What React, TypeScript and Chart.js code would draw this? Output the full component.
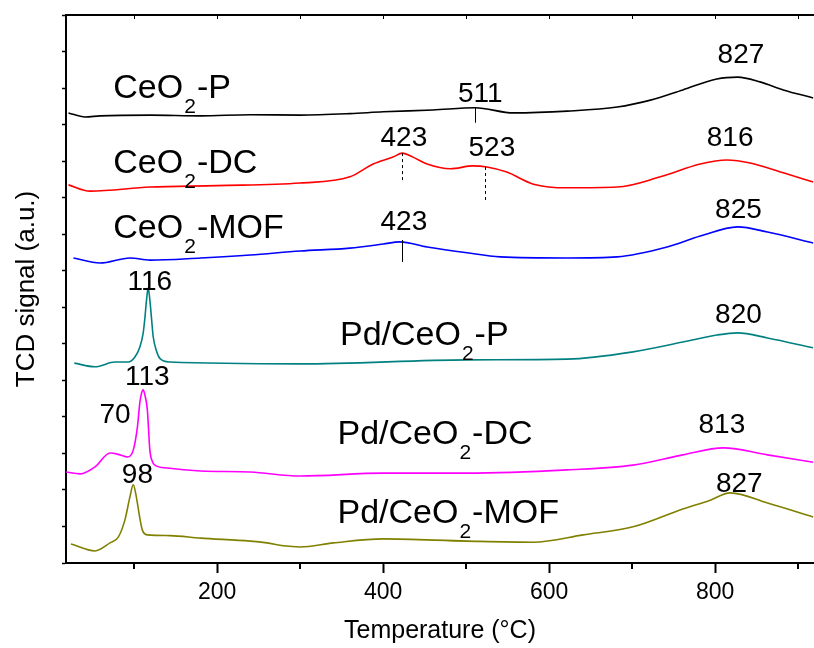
import React, { useEffect, useRef } from 'react';
import { Chart, registerables } from 'chart.js';

Chart.register(...registerables);

const FONT = '"Liberation Sans", Arial, Helvetica, sans-serif';

// X axis (temperature, °C)
const xMin = 18;
const xMax = 919;
const xTickValues = [100, 200, 300, 400, 500, 600, 700, 800, 900];
const xMajorStep = 200;

// Y axis (arbitrary units, stacked offsets)
const yMin = 0;
const yMax = 15;
const yTickValues = [0, 1, 2, 3, 4, 5, 6, 7, 8, 9, 10, 11, 12, 13, 14, 15];

// Series names and colours
const seriesNames = ['CeO2-P', 'CeO2-DC', 'CeO2-MOF', 'Pd/CeO2-P', 'Pd/CeO2-DC', 'Pd/CeO2-MOF'];
const seriesColors = ['#000000', '#ff0000', '#0000ff', '#008080', '#ff00ff', '#808000'];

// CeO2-P
const ceoPTemp = [21, 41, 59, 120, 180, 240, 300, 360, 400, 460, 511, 557, 622, 682, 722, 761, 802, 827, 854, 882, 918];
const ceoPVal = [12.32, 12.21, 12.24, 12.26, 12.24, 12.27, 12.26, 12.3, 12.35, 12.4, 12.46, 12.32, 12.37, 12.48, 12.67, 12.95, 13.25, 13.3, 13.17, 12.95, 12.73];

// CeO2-DC
const ceoDCTemp = [21, 47, 119, 200, 300, 360, 388, 412, 423, 436, 453, 481, 508, 525, 549, 581, 622, 682, 734, 782, 814, 842, 882, 918];
const ceoDCVal = [10.35, 10.18, 10.29, 10.33, 10.4, 10.57, 10.92, 11.11, 11.22, 11.11, 10.92, 10.79, 10.87, 10.84, 10.7, 10.37, 10.27, 10.29, 10.57, 10.92, 11.03, 10.95, 10.68, 10.43];

// CeO2-MOF
const ceoMOFTemp = [27, 59, 95, 119, 180, 240, 300, 360, 400, 420, 453, 501, 541, 622, 682, 742, 782, 827, 863, 918];
const ceoMOFVal = [8.35, 8.21, 8.35, 8.29, 8.35, 8.43, 8.54, 8.62, 8.73, 8.79, 8.65, 8.49, 8.38, 8.35, 8.38, 8.65, 8.95, 9.2, 9.06, 8.76];

// Pd/CeO2-P
const pdPTemp = [28, 53, 77, 93, 101, 107, 111, 113, 115, 117, 119, 121, 123, 127, 131, 143, 300, 501, 622, 701, 761, 802, 827, 863, 918];
const pdPVal = [5.47, 5.37, 5.5, 5.5, 5.64, 5.91, 6.3, 6.7, 7.2, 7.53, 7.2, 6.7, 6.2, 5.8, 5.6, 5.5, 5.45, 5.56, 5.58, 5.78, 6.05, 6.24, 6.3, 6.16, 5.89];

// Pd/CeO2-DC
const pdDCTemp = [18, 35, 53, 71, 83, 92, 99, 104, 107, 109, 111, 113, 116, 119, 122, 125, 140, 180, 240, 300, 400, 501, 622, 701, 761, 810, 863, 918];
const pdDCVal = [2.49, 2.44, 2.63, 3.01, 2.96, 2.9, 3.09, 3.72, 4.4, 4.65, 4.74, 4.6, 4.19, 3.09, 2.78, 2.68, 2.6, 2.52, 2.49, 2.38, 2.46, 2.46, 2.55, 2.68, 2.96, 3.15, 2.96, 2.76];

// Pd/CeO2-MOF
const pdMOFTemp = [24, 53, 71, 81, 89, 95, 99, 102, 104, 107, 110, 116, 143, 180, 240, 260, 280, 300, 340, 400, 501, 581, 641, 701, 761, 794, 818, 863, 918];
const pdMOFVal = [0.52, 0.33, 0.55, 0.71, 1.18, 1.81, 2.14, 1.9, 1.64, 1.22, 0.9, 0.77, 0.75, 0.68, 0.6, 0.55, 0.47, 0.44, 0.55, 0.66, 0.6, 0.57, 0.77, 0.99, 1.48, 1.72, 1.92, 1.64, 1.26];

const seriesTemps = [ceoPTemp, ceoDCTemp, ceoMOFTemp, pdPTemp, pdDCTemp, pdMOFTemp];
const seriesVals = [ceoPVal, ceoDCVal, ceoMOFVal, pdPVal, pdDCVal, pdMOFVal];

// Series name labels (left edge temperature, baseline value)
const nameLabelX = [75, 75, 75, 348, 345, 345];
const nameLabelY = [12.73, 10.68, 8.9, 5.97, 3.26, 1.1];

// Peak temperature labels (centre)
const peakLabels = ['827', '511', '423', '523', '816', '423', '825', '116', '820', '113', '70', '813', '98', '827'];
const peakLabelX = [831, 517, 425, 531, 818, 425, 828, 119, 828, 116, 77, 808, 104, 829];
const peakLabelY = [13.91, 12.84, 11.63, 11.36, 11.63, 9.33, 9.66, 7.69, 6.79, 5.09, 4.05, 3.78, 2.41, 2.16];

// Peak marker lines
const markerX = [511, 423, 523, 423];
const markerTop = [12.46, 11.22, 10.84, 8.84];
const markerBottom = [12.05, 10.4, 9.88, 8.24];
const markerDashed = [false, true, true, false];

const overlayPlugin = {
  id: 'overlay',
  afterDatasetsDraw(chart: any) {
    const { ctx, chartArea } = chart;
    const x = chart.scales.x;
    const y = chart.scales.y;
    ctx.save();
    // top frame line with inward minor ticks
    ctx.strokeStyle = '#000';
    ctx.lineWidth = 2;
    ctx.beginPath();
    ctx.moveTo(chartArea.left - 1, chartArea.top);
    ctx.lineTo(chartArea.right, chartArea.top);
    ctx.stroke();
    ctx.lineWidth = 1;
    ctx.beginPath();
    xTickValues.forEach((v) => {
      const px = Math.round(x.getPixelForValue(v)) + 0.5;
      ctx.moveTo(px, chartArea.top);
      ctx.lineTo(px, chartArea.top + 4);
    });
    ctx.stroke();
    // bottom minor ticks (shorter)
    ctx.lineWidth = 2;
    ctx.beginPath();
    xTickValues.forEach((v) => {
      if (v % xMajorStep !== 0) {
        const px = Math.round(x.getPixelForValue(v));
        ctx.moveTo(px, chartArea.bottom);
        ctx.lineTo(px, chartArea.bottom + 6);
      }
    });
    ctx.stroke();

    // marker lines
    ctx.lineWidth = 1;
    markerX.forEach((mx, i) => {
      const px = Math.round(x.getPixelForValue(mx)) + 0.5;
      ctx.setLineDash(markerDashed[i] ? [3, 3] : []);
      ctx.beginPath();
      ctx.moveTo(px, y.getPixelForValue(markerTop[i]));
      ctx.lineTo(px, y.getPixelForValue(markerBottom[i]));
      ctx.stroke();
    });
    ctx.setLineDash([]);

    // peak labels
    ctx.fillStyle = '#000';
    ctx.font = `28px ${FONT}`;
    ctx.textAlign = 'center';
    ctx.textBaseline = 'middle';
    peakLabels.forEach((t, i) => {
      ctx.fillText(t, x.getPixelForValue(peakLabelX[i]), y.getPixelForValue(peakLabelY[i]));
    });

    // series name labels with subscript 2
    ctx.textAlign = 'left';
    ctx.textBaseline = 'alphabetic';
    seriesNames.forEach((name, i) => {
      const k = name.indexOf('O2') + 1;
      const pre = name.slice(0, k);
      const sub = name.slice(k, k + 1);
      const post = name.slice(k + 1);
      let px = x.getPixelForValue(nameLabelX[i]);
      const py = y.getPixelForValue(nameLabelY[i]);
      ctx.font = `34px ${FONT}`;
      ctx.fillText(pre, px, py);
      px += ctx.measureText(pre).width + 1;
      ctx.font = `21px ${FONT}`;
      ctx.fillText(sub, px, py + 15);
      px += ctx.measureText(sub).width + 1;
      ctx.font = `34px ${FONT}`;
      ctx.fillText(post, px, py);
    });
    ctx.restore();
  },
};

export default function App() {
  const canvasRef = useRef<HTMLCanvasElement | null>(null);

  useEffect(() => {
    const canvas = canvasRef.current;
    if (!canvas) return;
    const datasets = seriesNames.map((name, i) => ({
      label: name,
      data: seriesTemps[i].map((t, j) => ({ x: t, y: seriesVals[i][j] })),
      borderColor: seriesColors[i],
      backgroundColor: seriesColors[i],
      borderWidth: 1.6,
      pointRadius: 0,
      cubicInterpolationMode: 'monotone' as const,
      fill: false,
    }));

    const chart = new Chart(canvas, {
      type: 'line',
      data: { datasets },
      plugins: [overlayPlugin],
      options: {
        animation: false,
        responsive: false,
        events: [],
        layout: { padding: { top: 15, left: 0, right: 0, bottom: 0 } },
        plugins: { legend: { display: false }, tooltip: { enabled: false } },
        scales: {
          x: {
            type: 'linear',
            min: xMin,
            max: xMax,
            afterBuildTicks: (s: any) => {
              s.ticks = xTickValues.map((v) => ({ value: v }));
            },
            afterFit: (s: any) => {
              s.height = 85;
            },
            border: { display: true, color: '#000', width: 2 },
            grid: {
              drawOnChartArea: false,
              drawTicks: true,
              tickLength: 10,
              tickWidth: 2,
              tickColor: (c: any) => (c.tick && c.tick.value % xMajorStep === 0 ? '#000' : 'rgba(0,0,0,0)'),
            },
            ticks: {
              autoSkip: false,
              maxRotation: 0,
              padding: 6,
              color: '#000',
              font: { family: FONT, size: 23 },
              callback: (v: any) => (Number(v) % xMajorStep === 0 ? String(v) : ''),
            },
            title: {
              display: true,
              text: 'Temperature (°C)',
              color: '#000',
              font: { family: FONT, size: 25 },
              padding: { top: 0, bottom: 2 },
            },
          },
          y: {
            type: 'linear',
            min: yMin,
            max: yMax,
            afterBuildTicks: (s: any) => {
              s.ticks = yTickValues.map((v) => ({ value: v }));
            },
            afterFit: (s: any) => {
              s.width = 66;
            },
            border: { display: true, color: '#000', width: 2 },
            grid: {
              drawOnChartArea: false,
              drawTicks: true,
              tickLength: 4,
              tickWidth: 1.5,
              tickColor: '#000',
            },
            ticks: { display: false },
            title: {
              display: true,
              text: 'TCD signal (a.u.)',
              color: '#000',
              font: { family: FONT, size: 26 },
              padding: { top: 11, bottom: 0 },
            },
          },
        },
      },
    });
    return () => chart.destroy();
  }, []);

  return (
    <div style={{ position: 'absolute', left: 0, top: 0, width: 814, height: 648, background: '#fff' }}>
      <canvas ref={canvasRef} width={814} height={648} style={{ display: 'block' }} />
    </div>
  );
}
